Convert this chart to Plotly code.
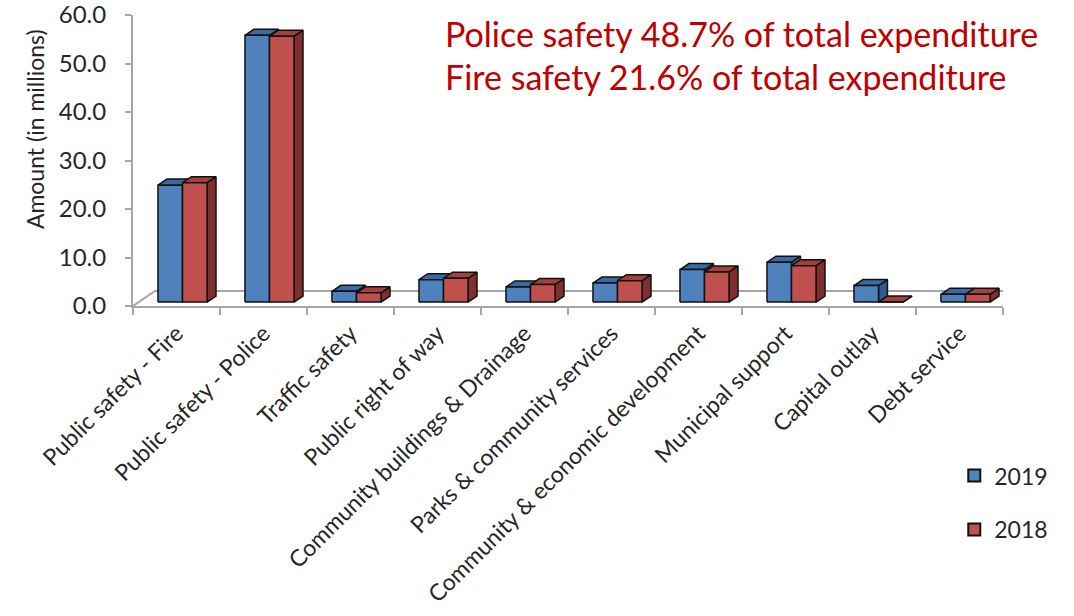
import plotly.graph_objects as go

# Spending by function, in millions
categories = [
    "Public safety - Fire",
    "Public safety - Police",
    "Traffic safety",
    "Public right of way",
    "Community buildings & Drainage",
    "Parks & community services",
    "Community & economic development",
    "Municipal support",
    "Capital outlay",
    "Debt service",
]
amount_2019 = [24.1, 55.0, 2.2, 4.6, 3.1, 3.9, 6.7, 8.2, 3.4, 1.6]
amount_2018 = [24.6, 54.8, 1.9, 4.9, 3.6, 4.4, 6.2, 7.5, 0.0, 1.6]
series_names = ["2019", "2018"]
y_ticks = [0, 10, 20, 30, 40, 50, 60]

# Pseudo-3D geometry (in axis units: one category = 1.0 on x, values on y)
N = len(categories)
Y_MAX = 60
FLOOR_DX, FLOOR_DY = 0.253, 3.09     # depth of the floor
BAR_X0, BAR_Y0 = 0.069, 0.82         # how far back the bars stand on the floor
BAR_GAP = 0.218                      # empty space at each side of a group
BAR_W = 0.282                        # width of a single bar face
DEPTH_DX, DEPTH_DY = 0.103, 1.24     # depth of each bar

FACE = {
    "2019": {"front": "#4F81BD", "top": "#3B6AA3", "side": "#2E5A8E"},
    "2018": {"front": "#C0504D", "top": "#A3403D", "side": "#7F302E"},
}
EDGE = "#111111"
AXIS_GREY = "#A6A6A6"
TEXT = "#262626"
FONT = "Lato"


def face_polygons(values, slot):
    """Return x/y lists (None-separated) for the front, top and side faces."""
    out = {"front": ([], []), "top": ([], []), "side": ([], [])}
    for i, v in enumerate(values):
        x0 = i + BAR_GAP + BAR_X0 + slot * BAR_W
        x1 = x0 + BAR_W
        b = BAR_Y0
        t = BAR_Y0 + v
        polys = {
            "front": [(x0, b), (x1, b), (x1, t), (x0, t)],
            "top": [(x0, t), (x1, t), (x1 + DEPTH_DX, t + DEPTH_DY), (x0 + DEPTH_DX, t + DEPTH_DY)],
            "side": [(x1, b), (x1 + DEPTH_DX, b + DEPTH_DY), (x1 + DEPTH_DX, t + DEPTH_DY), (x1, t)],
        }
        for k, pts in polys.items():
            xs, ys = out[k]
            xs.extend([p[0] for p in pts] + [pts[0][0], None])
            ys.extend([p[1] for p in pts] + [pts[0][1], None])
    return out


fig = go.Figure()

# Floor frame behind the bars
floor_x = [0, FLOOR_DX, N + FLOOR_DX, N]
floor_y = [0, FLOOR_DY, FLOOR_DY, 0]
fig.add_trace(go.Scatter(
    x=floor_x, y=floor_y, mode="lines",
    line=dict(color=AXIS_GREY, width=2),
    hoverinfo="skip", showlegend=False,
))

# Bars: side, top, then front for each series so nearer faces cover farther ones
for slot, (name, values) in enumerate(zip(series_names, [amount_2019, amount_2018])):
    faces = face_polygons(values, slot)
    for part in ["side", "top", "front"]:
        xs, ys = faces[part]
        fig.add_trace(go.Scatter(
            x=xs, y=ys, mode="lines", fill="toself",
            fillcolor=FACE[name][part],
            line=dict(color=EDGE, width=1.5),
            hoverinfo="skip", showlegend=False,
        ))

# Legend entries
for name in series_names:
    fig.add_trace(go.Bar(
        x=[None], y=[None], name=name, legendgroup=name,
        marker=dict(color=FACE[name]["front"], line=dict(color=EDGE, width=2)),
    ))

fig.update_layout(
    width=1074, height=616,
    margin=dict(l=133, r=71, t=15, b=310),
    paper_bgcolor="white", plot_bgcolor="white",
    font=dict(family=FONT, color=TEXT),
    xaxis=dict(
        range=[0, N], showgrid=False, zeroline=False, automargin=False,
        showline=True, linecolor=AXIS_GREY, linewidth=2,
        tickmode="array", tickvals=[i + 0.5 for i in range(N)], ticktext=categories,
        ticks="", tickangle=-45, tickfont=dict(size=23, color=TEXT),
        ticklabelstandoff=3, ticklabeloverflow="allow",
        minor=dict(tickmode="array", tickvals=list(range(N + 1)), ticks="outside",
                   ticklen=7, tickwidth=2, tickcolor=AXIS_GREY),
    ),
    yaxis=dict(
        range=[0, Y_MAX], showgrid=False, zeroline=False, automargin=False,
        showline=True, linecolor=AXIS_GREY, linewidth=2,
        tickmode="array", tickvals=y_ticks, tickformat=".1f",
        ticks="outside", ticklen=6, tickwidth=2, tickcolor=AXIS_GREY,
        tickfont=dict(size=24, color=TEXT), ticklabelstandoff=14,
        ticklabeloverflow="allow",
    ),
    legend=dict(
        x=0.944, y=-0.509, xanchor="left", yanchor="top",
        font=dict(size=23, color=TEXT), itemwidth=30,
        tracegroupgap=21, traceorder="grouped",
        bgcolor="rgba(0,0,0,0)",
    ),
    showlegend=True,
    annotations=[
        dict(text="Amount (in millions)", textangle=-90, xref="paper", yref="paper",
             x=-0.1126, y=0.608, xanchor="center", yanchor="middle", showarrow=False,
             font=dict(size=23, color=TEXT)),
        dict(text="Police safety 48.7% of total expenditure", xref="paper", yref="paper",
             x=0.356, y=0.938, xanchor="left", yanchor="middle", showarrow=False,
             font=dict(size=34, color="#C00000")),
        dict(text="Fire safety 21.6% of total expenditure", xref="paper", yref="paper",
             x=0.356, y=0.789, xanchor="left", yanchor="middle", showarrow=False,
             font=dict(size=34, color="#C00000")),
    ],
)

fig.write_html("out.html")
